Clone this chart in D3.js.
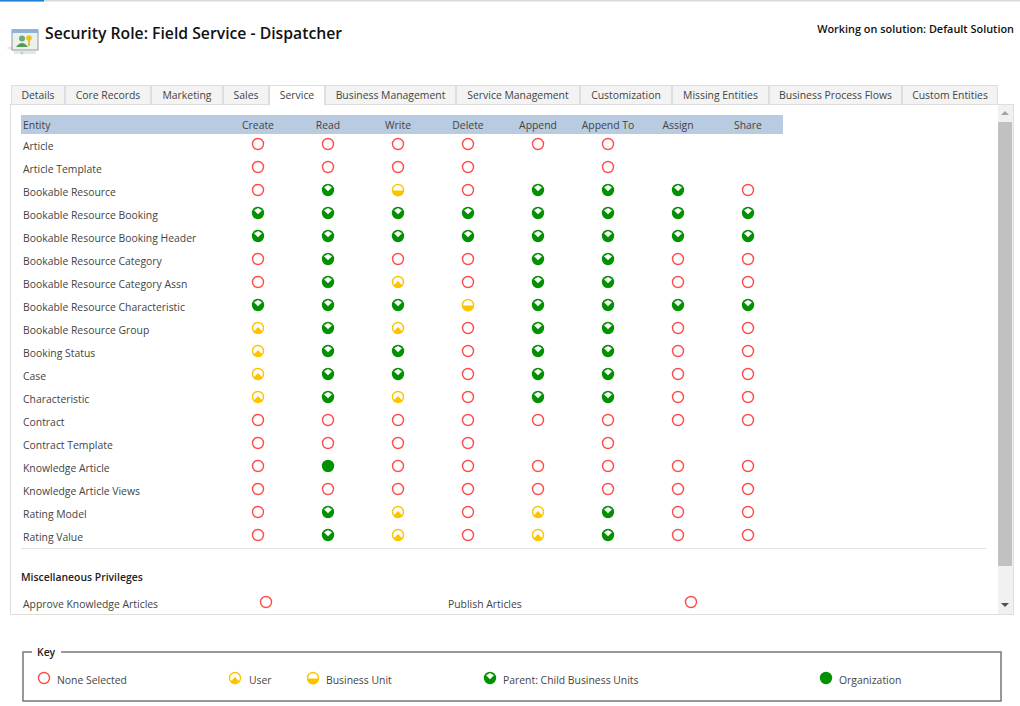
<!DOCTYPE html>
<html>
<head>
<meta charset="utf-8">
<script src="https://cdn.jsdelivr.net/npm/d3@7"></script>
<style>
  body { margin: 0; background: #fff; overflow: hidden; }
  svg { display: block; }
  text { font-family: "Open Sans", "Noto Sans", sans-serif; font-size: 10.4px; fill: #444; }
</style>
</head>
<body>
<svg id="canvas" width="1020" height="706"></svg>
<script>
let tabs = ["Details", "Core Records", "Marketing", "Sales", "Service", "Business Management", "Service Management", "Customization", "Missing Entities", "Business Process Flows", "Custom Entities"]
let activeTab = "Service"
let actions = ["Create", "Read", "Write", "Delete", "Append", "Append To", "Assign", "Share"]
let entities = ["Article", "Article Template", "Bookable Resource", "Bookable Resource Booking", "Bookable Resource Booking Header", "Bookable Resource Category", "Bookable Resource Category Assn", "Bookable Resource Characteristic", "Bookable Resource Group", "Booking Status", "Case", "Characteristic", "Contract", "Contract Template", "Knowledge Article", "Knowledge Article Views", "Rating Model", "Rating Value"]

// 0 none, 1 user, 2 business unit, 3 parent: child, 4 organization, null = no icon
let levels = [
  [0, 0, 0, 0, 0, 0, null, null],
  [0, 0, 0, 0, null, 0, null, null],
  [0, 3, 2, 0, 3, 3, 3, 0],
  [3, 3, 3, 3, 3, 3, 3, 3],
  [3, 3, 3, 3, 3, 3, 3, 3],
  [0, 3, 0, 0, 3, 3, 0, 0],
  [0, 3, 1, 0, 3, 3, 0, 0],
  [3, 3, 3, 2, 3, 3, 3, 3],
  [1, 3, 1, 0, 3, 3, 0, 0],
  [1, 3, 3, 0, 3, 3, 0, 0],
  [1, 3, 3, 0, 3, 3, 0, 0],
  [1, 3, 1, 0, 3, 3, 0, 0],
  [0, 0, 0, 0, 0, 0, 0, 0],
  [0, 0, 0, 0, null, 0, null, null],
  [0, 4, 0, 0, 0, 0, 0, 0],
  [0, 0, 0, 0, 0, 0, 0, 0],
  [0, 3, 1, 0, 1, 3, 0, 0],
  [0, 3, 1, 0, 1, 3, 0, 0]
]
let keyNames = ["None Selected", "User", "Business Unit", "Parent: Child Business Units", "Organization"]
let keyLevels = [0, 1, 2, 3, 4]
let miscNames = ["Approve Knowledge Articles", "Publish Articles"]
let miscLevels = [0, 0]

let tabEdges = [11, 65, 151, 223, 269, 325, 456, 580, 672, 769, 902, 998]
let keyIconX = [44, 235, 313, 490, 826]
let keyLabelX = [57, 249, 326, 503, 839]
let miscLabelX = [23, 448]
let miscIconX = [266, 691]

let RED = "#ff4a4a", GOLD = "#fcc400", GREEN = "#039003"

let svg = d3.select("#canvas")

let x = d3.scalePoint().domain(actions).range([258, 748])
let y = d3.scalePoint().domain(entities).range([144, 535])

let rect = (x0, y0, w, h, fill) => svg.append("rect").attr("x", x0).attr("y", y0).attr("width", w).attr("height", h).attr("fill", fill)
let label = (str, lx, ly) => svg.append("text").attr("x", lx).attr("y", ly).text(str)

let drawIcon = (g, level) => {
  if (level === 0) {
    g.append("circle").attr("r", 5.5).attr("fill", "#fff").attr("stroke", RED).attr("stroke-width", 1.4)
  } else if (level === 1) {
    g.append("circle").attr("r", 5.5).attr("fill", "#fff").attr("stroke", GOLD).attr("stroke-width", 1.4)
    g.append("path").attr("d", "M-4.4,3.6 L0,-0.9 L4.4,3.6 A5.6,5.6 0 0 1 -4.4,3.6 Z").attr("fill", GOLD)
  } else if (level === 2) {
    g.append("circle").attr("r", 5.5).attr("fill", "#fff").attr("stroke", GOLD).attr("stroke-width", 1.4)
    g.append("path").attr("d", "M-6,0.4 L6,0.4 A6,6 0 0 1 -6,0.4 Z").attr("fill", GOLD)
  } else if (level === 3) {
    g.append("circle").attr("r", 6.2).attr("fill", GREEN)
    g.append("path").attr("d", "M-4,-2.8 L0,-5 L4,-2.8 L0,1.2 Z").attr("fill", "#fff")
  } else if (level === 4) {
    g.append("circle").attr("r", 6.2).attr("fill", GREEN)
  }
}

// page top line
rect(0, 0, 1020, 1.5, "#d9d9d9")
rect(0, 0, 44, 1.5, "#1f7fd0")

// role icon
let logo = svg.append("g")
logo.append("path").attr("d", "M6,48 L12,46 L12,50 Z").attr("fill", "#e6e6e6")
logo.append("rect").attr("x", 12).attr("y", 30).attr("width", 26).attr("height", 20).attr("fill", "#eef0ea").attr("stroke", "#8a97a8")
logo.append("rect").attr("x", 12).attr("y", 29).attr("width", 26).attr("height", 4).attr("fill", "#8fb2d8")
logo.append("circle").attr("cx", 22).attr("cy", 38.5).attr("r", 3).attr("fill", "#6fa87a")
logo.append("path").attr("d", "M16,47 Q22,39 28,47 Z").attr("fill", "#4f9a5c")
logo.append("circle").attr("cx", 29).attr("cy", 38).attr("r", 2.8).attr("fill", "#e8c02c")
logo.append("rect").attr("x", 28).attr("y", 39).attr("width", 2).attr("height", 7).attr("fill", "#e8c02c")
logo.append("rect").attr("x", 14).attr("y", 51).attr("width", 22).attr("height", 3).attr("fill", "#e4e8e4")
logo.append("circle").attr("cx", 22).attr("cy", 53).attr("r", 1.5).attr("fill", "#bcd8c0")

// title
label("Security Role: Field Service - Dispatcher", 45, 39)
  .style("font-size", "15.75px").style("font-weight", 600).style("fill", "#111")
label("Working on solution: Default Solution", 1014, 33)
  .attr("text-anchor", "end").style("font-size", "10.9px").style("font-weight", 600).style("fill", "#111")

// panel
svg.append("rect").attr("x", 10.5).attr("y", 104.5).attr("width", 1003).attr("height", 510).attr("fill", "#fff").attr("stroke", "#dedede")

// tabs
let tabG = svg.selectAll("g.tab").data(tabs).enter().append("g").attr("class", "tab")
tabG.append("rect")
  .attr("x", (d, i) => tabEdges[i] + 0.5)
  .attr("y", 85.5)
  .attr("width", (d, i) => tabEdges[i + 1] - tabEdges[i] - 1)
  .attr("height", (d) => d === activeTab ? 19.5 : 19)
  .attr("fill", (d) => d === activeTab ? "#fff" : "#f3f3f3")
  .attr("stroke", "#dedede")
tabG.append("text")
  .attr("x", (d, i) => (tabEdges[i] + tabEdges[i + 1]) / 2)
  .attr("y", 99)
  .attr("text-anchor", "middle")
  .text((d) => d)
rect(270, 104, 54, 2, "#fff")

// scrollbar
rect(998, 105, 15, 509, "#f1f1f1")
rect(998, 122, 14, 444, "#c1c1c1")
svg.append("path").attr("d", d3.line()([[1001, 115], [1009, 115], [1005, 111]])).attr("fill", "#a3a3a3")
svg.append("path").attr("d", d3.line()([[1001, 603], [1009, 603], [1005, 607]])).attr("fill", "#505050")

// header band
rect(21, 115, 762, 19, "#b9cbe0")
label("Entity", 23, 129)
svg.selectAll("text.action").data(actions).enter().append("text")
  .attr("class", "action")
  .attr("x", (d) => x(d))
  .attr("y", 129)
  .attr("text-anchor", "middle")
  .text((d) => d)

// rows
svg.selectAll("text.entity").data(entities).enter().append("text")
  .attr("class", "entity")
  .attr("x", 23)
  .attr("y", (d) => y(d) + 6)
  .text((d) => d)

entities.forEach((name, r) => {
  actions.forEach((action, c) => {
    if (levels[r][c] === null) return
    let g = svg.append("g").attr("transform", `translate(${x(action)},${y(name)})`)
    drawIcon(g, levels[r][c])
  })
})

// divider and misc privileges
rect(21, 548, 965, 1, "#e2e2e2")
label("Miscellaneous Privileges", 21, 581).style("font-weight", 600).style("fill", "#222")
miscNames.forEach((name, i) => {
  label(name, miscLabelX[i], 608)
  drawIcon(svg.append("g").attr("transform", `translate(${miscIconX[i]},602)`), miscLevels[i])
})

// key box
svg.append("rect").attr("x", 23).attr("y", 652).attr("width", 978).attr("height", 49).attr("fill", "#fff").attr("stroke", "#777").attr("stroke-width", 1.5)
rect(32, 646, 29, 12, "#fff")
label("Key", 37, 656).style("font-weight", 600).style("fill", "#222")
keyNames.forEach((name, i) => {
  label(name, keyLabelX[i], 684)
  drawIcon(svg.append("g").attr("transform", `translate(${keyIconX[i]},678)`), keyLevels[i])
})
</script>
</body>
</html>
